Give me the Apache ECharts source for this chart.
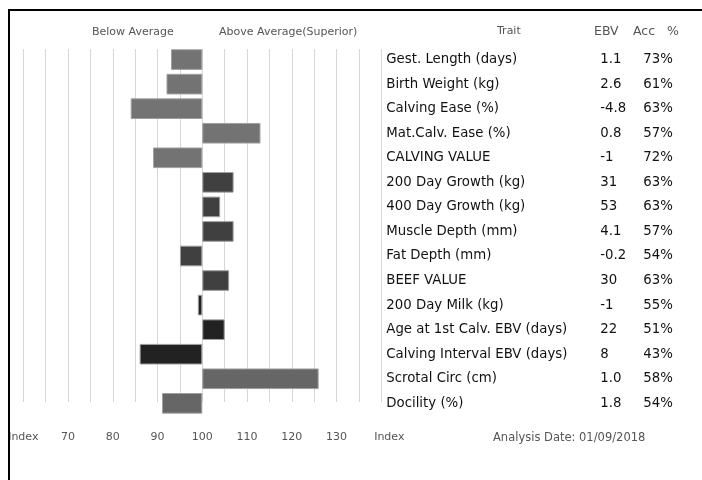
<!DOCTYPE html>
<html>
<head>
<meta charset="utf-8">
<style>
  html, body { margin: 0; padding: 0; background: #fff; }
  #chart { width: 702px; height: 480px; }
</style>
<script src="https://cdn.jsdelivr.net/npm/echarts@6/dist/echarts.min.js"></script>
</head>
<body>
<div id="chart"></div>
<script>
// ---- data ----
var traits = ['Gest. Length (days)', 'Birth Weight (kg)', 'Calving Ease (%)', 'Mat.Calv. Ease (%)', 'CALVING VALUE',
  '200 Day Growth (kg)', '400 Day Growth (kg)', 'Muscle Depth (mm)', 'Fat Depth (mm)', 'BEEF VALUE',
  '200 Day Milk (kg)', 'Age at 1st Calv. EBV (days)', 'Calving Interval EBV (days)', 'Scrotal Circ (cm)', 'Docility (%)'];
var ebv = ['1.1', '2.6', '-4.8', '0.8', '-1', '31', '53', '4.1', '-0.2', '30', '-1', '22', '8', '1.0', '1.8'];
var acc = [73, 61, 63, 57, 72, 63, 63, 57, 54, 63, 55, 51, 43, 58, 54];
var indexValues = [93, 92, 84, 113, 89, 107, 104, 107, 95, 106, 99, 105, 86, 126, 91];
var groups = ['A', 'A', 'A', 'A', 'A', 'B', 'B', 'B', 'B', 'B', 'C', 'C', 'C', 'D', 'D'];
var tickLabels = ['Index', '70', '80', '90', '100', '110', '120', '130', 'Index'];
var baseIndex = 100;

// ---- styles ----
var groupColors = { A: '#737373', B: '#404040', C: '#222222', D: '#666666' };
var tableFont = '"DejaVu Sans", sans-serif';
var smallFont = '"DejaVu Sans", sans-serif';

var chart = echarts.init(document.getElementById('chart'), null, { renderer: 'canvas' });

var barData = indexValues.map(function (v, i) {
  return { value: v - baseIndex, itemStyle: { color: groupColors[groups[i]] } };
});

var option = {
  animation: false,
  backgroundColor: '#fff',
  grid: [
    { left: 23.3, right: 320.7, top: 49, height: 353 },
    { left: 23.3, right: 320.7, top: 47.3, height: 368.3 }
  ],
  xAxis: [
    {
      gridIndex: 0, type: 'value', min: -40, max: 40, interval: 5,
      axisLine: { show: false }, axisTick: { show: false }, axisLabel: { show: false },
      splitLine: { show: true, lineStyle: { color: '#d6d6d6', width: 1 } }
    },
    {
      gridIndex: 1, type: 'value', min: -40, max: 40, interval: 10,
      axisLine: { show: false }, axisTick: { show: false },
      splitLine: { show: false },
      axisLabel: {
        margin: 16, color: '#555', fontFamily: smallFont, fontSize: 11,
        formatter: function (v) {
          var i = Math.round((v + 40) / 10);
          if (i === tickLabels.length - 1) return '{r|' + tickLabels[i] + '}';
          return tickLabels[i];
        },
        rich: { r: { padding: [0, 0, 0, 16], color: '#555', fontFamily: smallFont, fontSize: 11 } }
      }
    }
  ],
  yAxis: [
    { gridIndex: 0, type: 'value', show: false },
    {
      gridIndex: 1, type: 'category', data: traits, inverse: true, position: 'right',
      axisLine: { show: false }, axisTick: { show: false }, splitLine: { show: false },
      axisLabel: {
        margin: 5, align: 'left',
        formatter: function (val, idx) {
          return '{t|' + traits[idx] + '}{e|' + ebv[idx] + '}{a|' + acc[idx] + '%}';
        },
        rich: {
          t: { width: 214, fontFamily: tableFont, fontSize: 13.3, color: '#111' },
          e: { width: 43, fontFamily: tableFont, fontSize: 13.3, color: '#111' },
          a: { fontFamily: tableFont, fontSize: 13.3, color: '#111' }
        }
      }
    }
  ],
  series: [
    {
      type: 'bar', xAxisIndex: 1, yAxisIndex: 1,
      data: barData, barWidth: '84%',
      itemStyle: { borderColor: '#a0a0a0', borderWidth: 1 }
    }
  ],
  graphic: [
    { type: 'rect', shape: { x: 9, y: 10, width: 720, height: 500 }, style: { fill: 'none', stroke: '#000', lineWidth: 2 }, z: 100 },
    { type: 'text', left: 92, top: 27, style: { text: 'Below Average', font: '11px ' + smallFont, fill: '#555' } },
    { type: 'text', left: 219, top: 27, style: { text: 'Above Average(Superior)', font: '11px ' + smallFont, fill: '#555' } },
    { type: 'text', left: 497, top: 26, style: { text: 'Trait', font: '11px ' + smallFont, fill: '#555' } },
    { type: 'text', left: 594, top: 25, style: { text: 'EBV', font: '12.5px ' + smallFont, fill: '#555' } },
    { type: 'text', left: 633, top: 25, style: { text: 'Acc', font: '12.5px ' + smallFont, fill: '#555' } },
    { type: 'text', left: 667, top: 25, style: { text: '%', font: '12.5px ' + smallFont, fill: '#555' } },
    { type: 'text', left: 493, top: 432, style: { text: 'Analysis Date: 01/09/2018', font: '11.5px ' + smallFont, fill: '#555' } }
  ]
};

chart.setOption(option);
</script>
</body>
</html>
